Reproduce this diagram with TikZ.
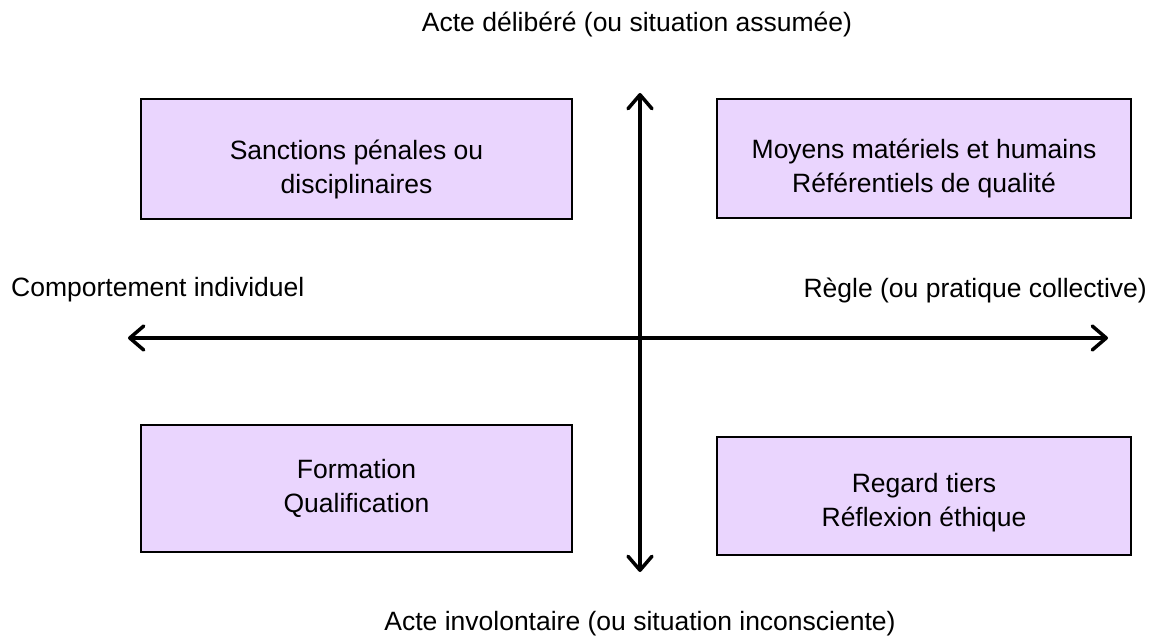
\documentclass[tikz,border=0pt]{standalone}
\usepackage{fontspec}
\setmainfont{Liberation Sans}
\usetikzlibrary{arrows.meta}
\definecolor{boxfill}{HTML}{EAD5FE}
\tikzset{
  quad/.style={draw=black, line width=1.8pt, fill=boxfill, align=center, font=\fontsize{26.5}{34}\selectfont},
  axis/.style={line width=3.5pt, {Straight Barb[length=14pt,width=24pt,line cap=round,line join=round]}-{Straight Barb[length=14pt,width=24pt,line cap=round,line join=round]}},
  lbl/.style={font=\fontsize{26.5}{34}\selectfont, inner sep=0pt}
}
\begin{document}
\begin{tikzpicture}[x=1pt,y=-1pt]
\useasboundingbox (0,0) rectangle (1152,639);
\fill[white] (0,0) rectangle (1152,639);
% boxes
\draw[quad] (141,99) rectangle (572,219);
\node[quad, draw=none, fill=none] (b1) at (356.5,169) {Sanctions pénales ou\\disciplinaires};
\draw[quad] (717,99) rectangle (1131,218);
\node[quad, draw=none, fill=none] (b2) at (924,168) {Moyens matériels et humains\\Référentiels de qualité};
\draw[quad] (141,425) rectangle (572,552);
\node[quad, draw=none, fill=none] (b3) at (356.5,488) {Formation\\Qualification};
\draw[quad] (717,437) rectangle (1131,555);
\node[quad, draw=none, fill=none] (b4) at (924,503) {Regard tiers\\Réflexion éthique};
% axes
\coordinate (top) at (640,93);
\coordinate (bot) at (640,572);
\coordinate (lft) at (128,338);
\coordinate (rgt) at (1108,338);
\draw[axis] (bot) -- (top);
\draw[axis] (lft) -- (rgt);
% labels
\node[lbl] (tl) at (637,24) {Acte délibéré (ou situation assumée)};
\node[lbl] (bl) at (640,624) {Acte involontaire (ou situation inconsciente)};
\node[lbl, anchor=west] (ll) at (11,290) {Comportement individuel};
\node[lbl, anchor=east] (rl) at (1147,290) {Règle (ou pratique collective)};
\end{tikzpicture}
\end{document}
